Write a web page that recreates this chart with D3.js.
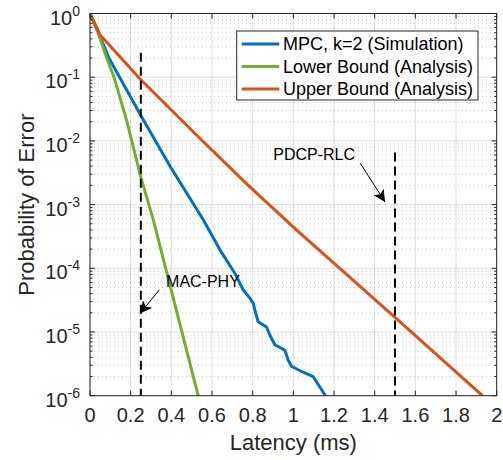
<!DOCTYPE html>
<html>
  <head>
    <meta charset="utf-8">
    <script src="https://d3js.org/d3.v7.min.js"></script>
    <title>Probability of Error vs Latency</title>
  </head>
  <body>
<style>
body {
  margin: 0;
  background-color: #fff;
  font-family: 'Liberation Sans', Arial, Helvetica, sans-serif;
}
svg {
  display: block;
}
</style>
<svg></svg>
<script type="text/javascript">
// values (latency in ms, probability)
const mpcLatency = [0, 0.05, 0.093, 0.147, 0.25, 0.4, 0.557, 0.639, 0.713, 0.753, 0.786, 0.803, 0.811, 0.827,
  0.868, 0.885, 0.909, 0.958, 0.975, 0.991, 1.04, 1.097, 1.158];
const mpcProb = [1, 0.43, 0.2, 0.098, 0.025, 3.7e-3, 5.8e-4, 1.95e-4, 8.3e-5, 4.6e-5, 3.4e-5, 2.8e-5, 2.2e-5, 1.45e-5,
  1.2e-5, 8.9e-6, 6.3e-6, 5.2e-6, 3.6e-6, 2.9e-6, 2.4e-6, 2.0e-6, 1e-6];

const lowerLatency = [0, 0.04, 0.082, 0.119, 0.18, 0.25, 0.311, 0.532];
const lowerProb = [1, 0.5, 0.2, 0.098, 0.021, 2.7e-3, 5.8e-4, 1e-6];

const upperLatency = [0, 0.05, 0.25, 0.54, 0.786, 1.015, 1.5, 1.93];
const upperProb = [1, 0.46, 0.091, 0.011, 1.9e-3, 4.0e-4, 1.7e-5, 1e-6];

const seriesNames = ["MPC, k=2 (Simulation)", "Lower Bound (Analysis)", "Upper Bound (Analysis)"];
const seriesColors = ["#0072BD", "#77AC30", "#D95319"];

const xTicks = [0, 0.2, 0.4, 0.6, 0.8, 1, 1.2, 1.4, 1.6, 1.8, 2];
const yExponents = [0, -1, -2, -3, -4, -5, -6];

// dashed markers: [latency, top probability]
const markers = [[0.25, 0.243], [1.5, 6.6e-3]];
// annotations: label, text pos, arrow tail, arrow head (data units)
const notes = [
  { label: "MAC-PHY", text: [0.374, 5.1e-5], from: [0.341, 4.6e-5], to: [0.246, 1.96e-5] },
  { label: "PDCP-RLC", text: [0.901, 5.0e-3], from: [1.328, 4.5e-3], to: [1.451, 1.1e-3] }
];

const W = 503, H = 460;
const margin = { left: 90, top: 13.5, right: 6.3, bottom: 64.3 };
const iw = W - margin.left - margin.right;
const ih = H - margin.top - margin.bottom;
const axisColor = "#262626";

const svg = d3.select("svg").attr("width", W).attr("height", H);

const x = d3.scaleLinear().domain([0, 2]).range([0, iw]);
const y = d3.scaleLog().domain([1e-6, 1]).range([ih, 0]);

const g = svg.append("g").attr("transform", `translate(${margin.left},${margin.top})`);

g.append("rect").attr("width", iw).attr("height", ih).attr("fill", "#fff");

// minor y grid (dotted)
const minorY = [];
yExponents.slice(1).forEach(e => {
  for (let m = 2; m <= 9; m++) minorY.push(m * Math.pow(10, e));
});
g.append("g").selectAll("line").data(minorY).enter().append("line")
  .attr("x1", 0).attr("x2", iw)
  .attr("y1", d => y(d)).attr("y2", d => y(d))
  .attr("stroke", "rgba(38,38,38,0.3)")
  .attr("stroke-width", 0.8)
  .attr("stroke-dasharray", "1,3");

// major grid
g.append("g").selectAll("line").data(xTicks).enter().append("line")
  .attr("x1", d => x(d)).attr("x2", d => x(d))
  .attr("y1", 0).attr("y2", ih)
  .attr("stroke", "rgba(38,38,38,0.15)");
g.append("g").selectAll("line").data(yExponents).enter().append("line")
  .attr("x1", 0).attr("x2", iw)
  .attr("y1", d => y(Math.pow(10, d))).attr("y2", d => y(Math.pow(10, d)))
  .attr("stroke", "rgba(38,38,38,0.15)");

// curves
svg.append("clipPath").attr("id", "clip")
  .append("rect").attr("width", iw).attr("height", ih);

const line = d3.line().x(d => x(d[0])).y(d => y(d[1]));
const series = [
  d3.zip(mpcLatency, mpcProb),
  d3.zip(lowerLatency, lowerProb),
  d3.zip(upperLatency, upperProb)
];
const plot = g.append("g").attr("clip-path", "url(#clip)");
plot.selectAll("path.curve").data(series).enter().append("path")
  .attr("class", "curve")
  .attr("d", line)
  .attr("fill", "none")
  .attr("stroke", (d, i) => seriesColors[i])
  .attr("stroke-width", 3)
  .attr("stroke-linejoin", "round");

// dashed markers
plot.selectAll("line.marker").data(markers).enter().append("line")
  .attr("class", "marker")
  .attr("x1", d => x(d[0])).attr("x2", d => x(d[0]))
  .attr("y1", d => y(d[1])).attr("y2", ih)
  .attr("stroke", "#000")
  .attr("stroke-width", 2)
  .attr("stroke-dasharray", "9,5");

// arrows
svg.append("defs").append("marker")
  .attr("id", "head")
  .attr("viewBox", "0 0 12 12")
  .attr("refX", 12).attr("refY", 6)
  .attr("markerWidth", 12).attr("markerHeight", 12)
  .attr("markerUnits", "userSpaceOnUse")
  .attr("orient", "auto")
  .append("path")
  .attr("d", "M0,0 L12,6 L0,12 L3,6 Z")
  .attr("fill", "#000");

const ann = g.append("g");
ann.selectAll("line").data(notes).enter().append("line")
  .attr("x1", d => x(d.from[0])).attr("y1", d => y(d.from[1]))
  .attr("x2", d => x(d.to[0])).attr("y2", d => y(d.to[1]))
  .attr("stroke", "#000")
  .attr("stroke-width", 1)
  .attr("marker-end", "url(#head)");
ann.selectAll("text").data(notes).enter().append("text")
  .attr("x", d => x(d.text[0])).attr("y", d => y(d.text[1]))
  .attr("font-size", 16)
  .attr("fill", "#000")
  .text(d => d.label);

// axes box + ticks
const frame = g.append("g").attr("stroke", axisColor).attr("stroke-width", 1);
frame.append("rect").attr("width", iw).attr("height", ih).attr("fill", "none");
xTicks.forEach(t => {
  frame.append("line").attr("x1", x(t)).attr("x2", x(t)).attr("y1", ih).attr("y2", ih - 5);
  frame.append("line").attr("x1", x(t)).attr("x2", x(t)).attr("y1", 0).attr("y2", 5);
});
yExponents.forEach(e => {
  const yy = y(Math.pow(10, e));
  frame.append("line").attr("x1", 0).attr("x2", 5).attr("y1", yy).attr("y2", yy);
  frame.append("line").attr("x1", iw).attr("x2", iw - 5).attr("y1", yy).attr("y2", yy);
});
minorY.forEach(v => {
  frame.append("line").attr("x1", 0).attr("x2", 2.5).attr("y1", y(v)).attr("y2", y(v));
  frame.append("line").attr("x1", iw).attr("x2", iw - 2.5).attr("y1", y(v)).attr("y2", y(v));
});

// tick labels
g.append("g").selectAll("text").data(xTicks).enter().append("text")
  .attr("x", d => x(d)).attr("y", ih + 26.3)
  .attr("text-anchor", "middle")
  .attr("font-size", 20)
  .attr("fill", axisColor)
  .text(d => d3.format("~g")(d));

const yl = g.append("g").selectAll("text").data(yExponents).enter().append("text")
  .attr("x", -10).attr("y", d => y(Math.pow(10, d)) + 11)
  .attr("text-anchor", "end")
  .attr("font-size", 20)
  .attr("fill", axisColor);
yl.append("tspan").text("10");
yl.append("tspan").attr("dy", -9).attr("font-size", 14).text(d => String(d));

// axis titles
g.append("text")
  .attr("x", iw / 2).attr("y", ih + 54.3)
  .attr("text-anchor", "middle")
  .attr("font-size", 22)
  .attr("fill", axisColor)
  .text("Latency (ms)");
g.append("text")
  .attr("transform", `translate(${34 - margin.left},${ih / 2}) rotate(-90)`)
  .attr("text-anchor", "middle")
  .attr("font-size", 22)
  .attr("fill", axisColor)
  .text("Probability of Error");

// legend
const lg = svg.append("g").attr("transform", "translate(236.7,31)");
lg.append("rect").attr("width", 241.3).attr("height", 69)
  .attr("fill", "#fff").attr("stroke", axisColor).attr("stroke-width", 1);
const rows = lg.selectAll("g").data(seriesNames).enter().append("g")
  .attr("transform", (d, i) => `translate(0,${13 + i * 22.5})`);
rows.append("line").attr("x1", 5).attr("x2", 42.6)
  .attr("stroke", (d, i) => seriesColors[i]).attr("stroke-width", 3);
rows.append("text").attr("x", 46.3).attr("y", 6.3)
  .attr("font-size", 18).attr("fill", "#000")
  .text(d => d);
</script>
  </body>
</html>
